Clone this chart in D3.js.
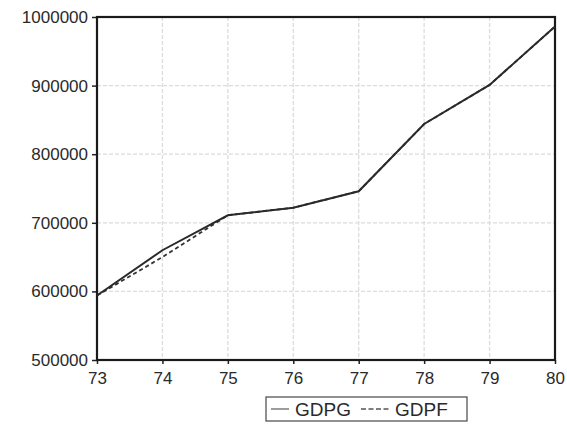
<!DOCTYPE html>
<html>
<head>
<meta charset="utf-8">
<script src="https://cdn.jsdelivr.net/npm/d3@7"></script>
<style>
  body { margin: 0; background: #fff; }
  text { font-family: "Liberation Sans", Arial, sans-serif; fill: #2a2a2a; }
</style>
</head>
<body>
<div id="chart"></div>
<script>
// Chart data
var years = [73, 74, 75, 76, 77, 78, 79, 80];
var gdpg = [594000, 660000, 711000, 722000, 746000, 844000, 901000, 986000];
var gdpf = [594000, 650000, 711000, 722000, 746000, 844000, 901000, 986000];
var yTicks = [500000, 600000, 700000, 800000, 900000, 1000000];
var seriesNames = ["GDPG", "GDPF"];

// Set up SVG params
var svgWdt = 567;
var svgHgt = 439;
var margins = { top: 17, right: 12, bottom: 79, left: 97 };
var chtWdt = svgWdt - margins.left - margins.right;
var chtHgt = svgHgt - margins.top - margins.bottom;

var svg = d3.select("#chart").append("svg")
    .attr("width", svgWdt)
    .attr("height", svgHgt);

var chtGrp = svg.append("g")
    .attr("transform", `translate(${margins.left}, ${margins.top})`);

// Scales
var xScale = d3.scaleLinear().domain([73, 80]).range([0, chtWdt]);
var yScale = d3.scaleLinear().domain([500000, 1000000]).range([chtHgt, 0]);

// Grid lines (light dotted)
chtGrp.selectAll(".vgrid").data(years.slice(1, -1))
    .enter().append("line")
    .attr("x1", d => xScale(d)).attr("x2", d => xScale(d))
    .attr("y1", 0).attr("y2", chtHgt)
    .attr("stroke", "#dcdcdc").attr("stroke-width", 1.3)
    .attr("stroke-dasharray", "4,2");
chtGrp.selectAll(".hgrid").data(yTicks.slice(1, -1))
    .enter().append("line")
    .attr("x1", 0).attr("x2", chtWdt)
    .attr("y1", d => yScale(d)).attr("y2", d => yScale(d))
    .attr("stroke", "#dcdcdc").attr("stroke-width", 1.3)
    .attr("stroke-dasharray", "4,2");

// Axes
var leftAx = d3.axisLeft(yScale).tickValues(yTicks).tickFormat(d3.format("d"))
    .tickSizeInner(5).tickSizeOuter(0).tickPadding(4);
var botAx = d3.axisBottom(xScale).tickValues(years).tickFormat(d3.format("d"))
    .tickSizeInner(4).tickSizeOuter(0).tickPadding(8);

var yAxis = chtGrp.append("g").call(leftAx);
var xAxis = chtGrp.append("g")
    .attr("transform", `translate(0, ${chtHgt})`)
    .call(botAx);

[yAxis, xAxis].forEach(ax => {
    ax.select(".domain").remove();
    ax.selectAll("line").attr("stroke", "#222").attr("stroke-width", 1.5);
    ax.selectAll("text").style("font-size", "17px").attr("fill", "#2a2a2a");
});

// Frame
chtGrp.append("rect")
    .attr("width", chtWdt).attr("height", chtHgt)
    .attr("fill", "none").attr("stroke", "#1a1a1a").attr("stroke-width", 2.2);

// Lines
var line = d3.line()
    .x((d, i) => xScale(years[i]))
    .y(d => yScale(d));

chtGrp.append("path").datum(gdpf)
    .attr("d", line).attr("fill", "none")
    .attr("stroke", "#333").attr("stroke-width", 1.8)
    .attr("stroke-dasharray", "4,3");
chtGrp.append("path").datum(gdpg)
    .attr("d", line).attr("fill", "none")
    .attr("stroke", "#2a2a2a").attr("stroke-width", 2);

// Legend
var lgd = svg.append("g").attr("transform", "translate(266, 397)");
lgd.append("rect")
    .attr("width", 201).attr("height", 24)
    .attr("fill", "#fff").attr("stroke", "#555").attr("stroke-width", 1.3);
lgd.append("line").attr("x1", 5).attr("x2", 23).attr("y1", 12).attr("y2", 12)
    .attr("stroke", "#666").attr("stroke-width", 1.3);
lgd.append("text").attr("x", 29).attr("y", 18.5).style("font-size", "19px").text(seriesNames[0]);
lgd.append("line").attr("x1", 95).attr("x2", 123).attr("y1", 12).attr("y2", 12)
    .attr("stroke", "#555").attr("stroke-width", 1.3).attr("stroke-dasharray", "5,2.5");
lgd.append("text").attr("x", 129).attr("y", 18.5).style("font-size", "19px").text(seriesNames[1]);
</script>
</body>
</html>
